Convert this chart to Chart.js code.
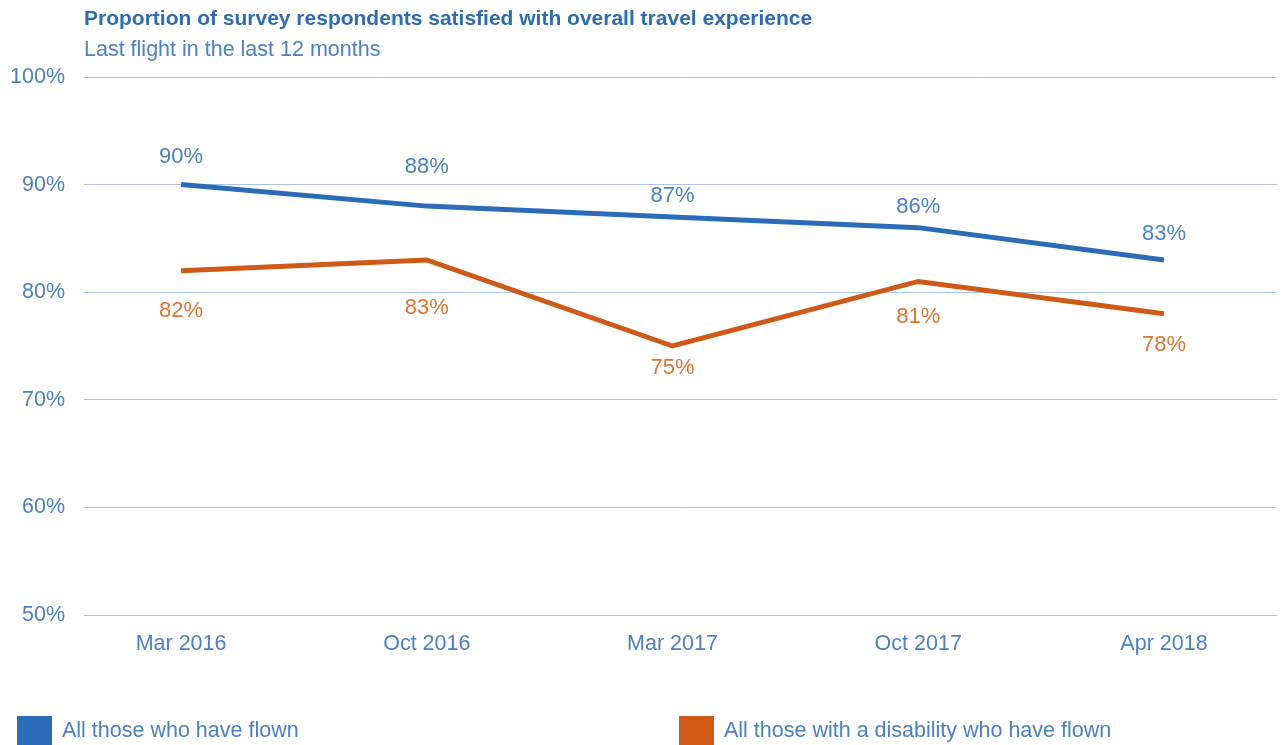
<!DOCTYPE html>
<html><head><meta charset="utf-8">
<script src="https://cdn.jsdelivr.net/npm/chart.js@4/dist/chart.umd.min.js"></script>
<style>html,body{margin:0;padding:0;background:#fff;}#wrap{position:relative;width:1282px;height:745px;}</style>
</head><body><div id="wrap"><canvas id="c" width="1282" height="745"></canvas></div>
<script>
const titleText = "Proportion of survey respondents satisfied with overall travel experience";
const subtitleText = "Last flight in the last 12 months";
const categories = ["Mar 2016", "Oct 2016", "Mar 2017", "Oct 2017", "Apr 2018"];
const allFlown = [90, 88, 87, 86, 83];
const disabilityFlown = [82, 83, 75, 81, 78];
const seriesNames = ["All those who have flown", "All those with a disability who have flown"];
const yTicks = [50, 60, 70, 80, 90, 100];

const FONT = '"Liberation Sans", Arial, sans-serif';
const BLUE = '#2b6cb8';
const ORANGE = '#cf5a17';
const TEXTBLUE = '#4a80c6';
const LABELORANGE = '#e0732f';

// label placement (layout only): vertical offset of each value label from its point
const labelLayout = [[-28, -39, -21, -21, -26], [40, 48, 22, 35, 31]];

const overlay = {
  id: 'overlay',
  afterDatasetsDraw(chart) {
    const ctx = chart.ctx;
    const area = chart.chartArea;
    ctx.save();
    ctx.textBaseline = 'middle';
    ctx.textAlign = 'left';
    ctx.fillStyle = '#2d6cb5';
    ctx.font = 'bold 21px ' + FONT;
    ctx.fillText(titleText, area.left, 19);
    ctx.fillStyle = TEXTBLUE;
    ctx.font = '21.5px ' + FONT;
    ctx.fillText(subtitleText, area.left, 50);
    ctx.font = '22px ' + FONT;
    ctx.textAlign = 'center';
    chart.data.datasets.forEach((ds, di) => {
      const meta = chart.getDatasetMeta(di);
      meta.data.forEach((pt, i) => {
        const v = ds.data[i].y;
        ctx.fillStyle = di === 0 ? TEXTBLUE : LABELORANGE;
        ctx.fillText(v + '%', pt.x, pt.y + labelLayout[di][i]);
      });
    });
    const legendItems = [{x: 17}, {x: 679}];
    chart.data.datasets.forEach((ds, di) => {
      const it = legendItems[di];
      ctx.fillStyle = ds.borderColor;
      ctx.fillRect(it.x, 716, 35, 32);
      ctx.fillStyle = TEXTBLUE;
      ctx.textAlign = 'left';
      ctx.font = '21.5px ' + FONT;
      ctx.fillText(ds.label, it.x + 45, 731);
    });
    ctx.restore();
  }
};

new Chart(document.getElementById('c'), {
  type: 'line',
  data: {
    datasets: [
      { label: seriesNames[0], data: allFlown.map((v, i) => ({x: i, y: v})), borderColor: BLUE, backgroundColor: BLUE, borderWidth: 5, pointRadius: 0, tension: 0 },
      { label: seriesNames[1], data: disabilityFlown.map((v, i) => ({x: i, y: v})), borderColor: ORANGE, backgroundColor: ORANGE, borderWidth: 5, pointRadius: 0, tension: 0 }
    ]
  },
  options: {
    responsive: false,
    animation: false,
    layout: { padding: { top: 77, right: 5, left: 0, bottom: 0 } },
    plugins: { legend: { display: false }, title: { display: false }, tooltip: { enabled: false } },
    scales: {
      x: {
        type: 'linear',
        min: -0.395, max: 4.46,
        afterBuildTicks(scale) { scale.ticks = categories.map((c, i) => ({ value: i })); },
        afterFit(scale) { scale.height = 130; },
        grid: { display: false, drawTicks: false },
        border: { display: false },
        ticks: {
          callback: (v) => categories[v] || '',
          font: { family: FONT, size: 21.5 },
          color: TEXTBLUE,
          padding: 16,
          maxRotation: 0,
          autoSkip: false
        }
      },
      y: {
        min: 50, max: 100,
        afterBuildTicks(scale) { scale.ticks = yTicks.map(v => ({ value: v })); },
        afterFit(scale) { scale.width = 84; },
        grid: { color: '#a9c4e4', lineWidth: 1, drawTicks: false },
        border: { display: false },
        ticks: {
          callback: (v) => v + '%',
          font: { family: FONT, size: 21.5 },
          color: TEXTBLUE,
          padding: 19
        }
      }
    }
  },
  plugins: [overlay]
});
</script></body></html>
